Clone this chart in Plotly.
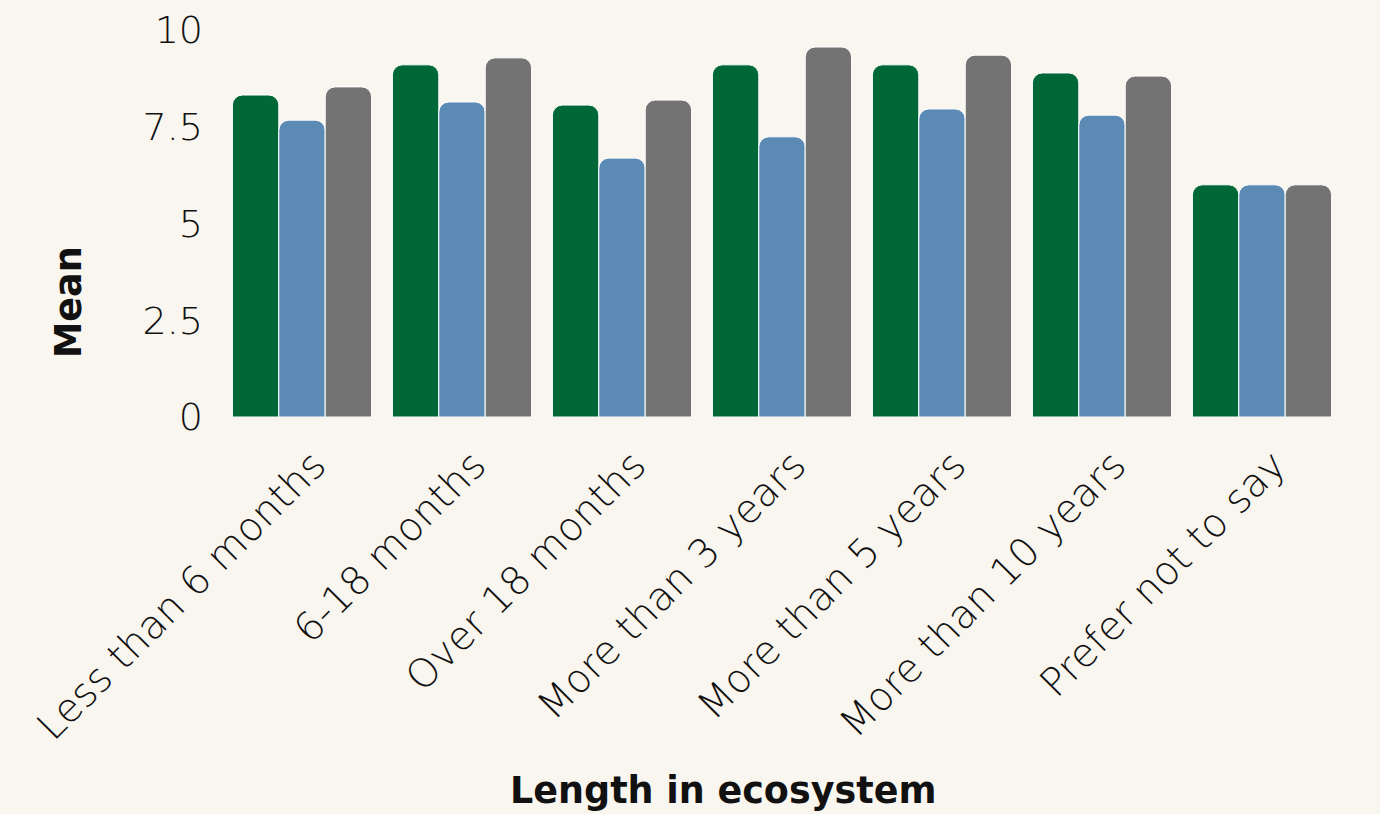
import plotly.graph_objects as go

categories = ["Less than 6 months", "6-18 months", "Over 18 months",
              "More than 3 years", "More than 5 years", "More than 10 years",
              "Prefer not to say"]
series_green = [8.32, 9.10, 8.06, 9.10, 9.10, 8.89, 6.0]
series_blue = [7.67, 8.14, 6.69, 7.24, 7.96, 7.80, 6.0]
series_gray = [8.53, 9.28, 8.19, 9.56, 9.35, 8.81, 6.0]
y_ticks = [0, 2.5, 5, 7.5, 10]
y_tick_labels = ["0", "2.5", "5", "7.5", "10"]
x_title = "Length in ecosystem"
y_title = "Mean"

colors = ["#006837", "#5b8ab5", "#737373"]
bg = "#f9f6f0"
y_tick_font = dict(size=38, family="DejaVu Sans", weight=200, color="#111111")
x_tick_font = dict(size=39.5, family="DejaVu Sans", weight=200, color="#111111")
title_font = dict(size=36.5, family="DejaVu Sans", weight="bold", color="#111111")

fig = go.Figure()
for name, vals, c in [("A", series_green, colors[0]),
                      ("B", series_blue, colors[1]),
                      ("C", series_gray, colors[2])]:
    fig.add_trace(go.Bar(x=categories, y=vals, name=name,
                         marker=dict(color=c, line=dict(color="white", width=1))))

fig.update_layout(
    width=1380, height=814,
    paper_bgcolor=bg, plot_bgcolor=bg,
    barmode="group", bargap=0.13, bargroupgap=0,
    barcornerradius=10,
    showlegend=False,
    margin=dict(l=222, r=38, t=30, b=397, autoexpand=False),
    font=dict(family="DejaVu Sans", color="#111111"),
    annotations=[
        dict(text=x_title, xref="paper", yref="paper", x=0.4473, y=-0.964,
             xanchor="center", yanchor="middle", showarrow=False, font=title_font),
        dict(text=y_title, xref="paper", yref="paper", x=-0.1375, y=0.297,
             xanchor="center", yanchor="middle", showarrow=False, textangle=-90,
             font=title_font),
    ],
)
fig.update_yaxes(range=[0, 10], tickvals=y_ticks, ticktext=y_tick_labels,
                 showgrid=False, zeroline=False, showline=False,
                 ticks="", ticklabelstandoff=18, tickfont=y_tick_font)
fig.update_xaxes(tickangle=-45, showgrid=False, showline=False, ticks="",
                 ticklabelstandoff=16, ticklabelshift=12, tickfont=x_tick_font)

fig.write_html("out.html", config={"displayModeBar": False},
               post_script="document.body.style.margin='0';document.body.style.overflow='hidden';")
